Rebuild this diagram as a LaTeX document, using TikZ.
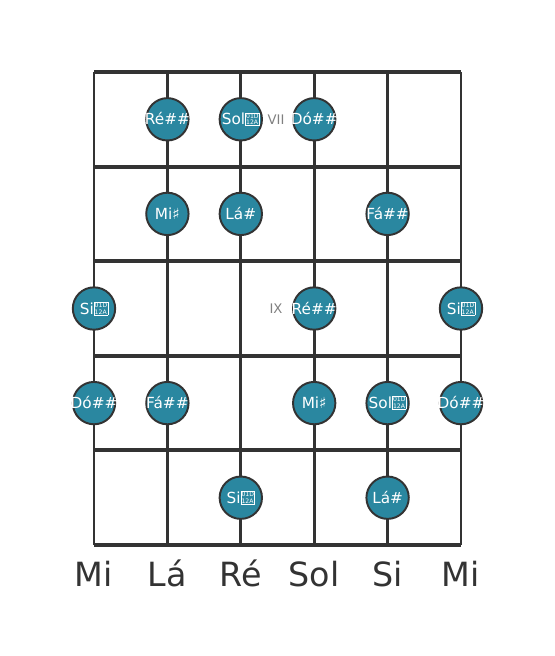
\documentclass[tikz,border=0pt]{standalone}
\usepackage{fontspec}
\setmainfont{DejaVu Sans}

\definecolor{notefill}{HTML}{2A87A0}
\definecolor{gridline}{HTML}{333333}
\definecolor{fretgray}{HTML}{808080}

% box drawn in place of the missing double sharp glyph
\newcommand{\dsharpbox}{{\setlength{\fboxsep}{0.35pt}\setlength{\fboxrule}{0.35pt}%
  \fbox{\fontsize{4.4}{4.9}\selectfont\vbox{\hbox{01D}\hbox{12A}}}}}

\tikzset{
  note/.style={circle, draw=gridline, line width=1.4pt, fill=notefill,
    minimum size=30.5pt, inner sep=0pt, text=white,
    text height=8pt, text depth=0pt, font=\fontsize{11}{13}\selectfont,
    execute at begin node={\hbox to 0pt\bgroup\hss},
    execute at end node={\hss\egroup}},
  fretlabel/.style={text=fretgray, font=\fontsize{9.5}{11}\selectfont},
  stringlabel/.style={anchor=base, text=gridline, font=\fontsize{24}{28}\selectfont}
}

\begin{document}
\begin{tikzpicture}[x=0.72pt, y=-0.72pt]
        \useasboundingbox (0,0) rectangle (555,656);

        % strings
        \draw[gridline, line width=2pt] (94,72) -- (94,545);
        \draw[gridline, line width=2pt] (167.4,72) -- (167.4,545);
        \draw[gridline, line width=2pt] (240.8,72) -- (240.8,545);
        \draw[gridline, line width=2pt] (314.2,72) -- (314.2,545);
        \draw[gridline, line width=2pt] (387.6,72) -- (387.6,545);
        \draw[gridline, line width=2pt] (461,72) -- (461,545);

        % frets
        \draw[gridline, line width=3pt] (94,72) -- (461,72);
        \draw[gridline, line width=3pt] (94,166.6) -- (461,166.6);
        \draw[gridline, line width=3pt] (94,261.2) -- (461,261.2);
        \draw[gridline, line width=3pt] (94,355.8) -- (461,355.8);
        \draw[gridline, line width=3pt] (94,450.4) -- (461,450.4);
        \draw[gridline, line width=3pt] (94,545) -- (461,545);

        \node[fretlabel] (vii) at (276,120) {VII};
        \node[fretlabel] (ix) at (276,308.5) {IX};

        % notes
        \node[note] (re1) at (167.4,119.3) {Ré\#\#};
        \node[note] (sol1) at (240.8,119.3) {Sol\dsharpbox};
        \node[note] (do1) at (314.2,119.3) {Dó\#\#};

        \node[note] (mi2) at (167.4,213.9) {Mi♯};
        \node[note] (la2) at (240.8,213.9) {Lá\#};
        \node[note] (fa2) at (387.6,213.9) {Fá\#\#};

        \node[note] (si3) at (94,308.5) {Si\dsharpbox};
        \node[note] (re3) at (314.2,308.5) {Ré\#\#};
        \node[note] (si3b) at (461,308.5) {Si\dsharpbox};

        \node[note] (do4) at (94,403.1) {Dó\#\#};
        \node[note] (fa4) at (167.4,403.1) {Fá\#\#};
        \node[note] (mi4) at (314.2,403.1) {Mi♯};
        \node[note] (sol4) at (387.6,403.1) {Sol\dsharpbox};
        \node[note] (do4b) at (461,403.1) {Dó\#\#};

        \node[note] (si5) at (240.8,497.7) {Si\dsharpbox};
        \node[note] (la5) at (387.6,497.7) {Lá\#};

        % open strings
        \node[stringlabel] (e6) at (94,586) {Mi};
        \node[stringlabel] (a5) at (167.4,586) {Lá};
        \node[stringlabel] (d4) at (240.8,586) {Ré};
        \node[stringlabel] (g3) at (314.2,586) {Sol};
        \node[stringlabel] (b2) at (387.6,586) {Si};
        \node[stringlabel] (e1) at (461,586) {Mi};
\end{tikzpicture}
\end{document}
